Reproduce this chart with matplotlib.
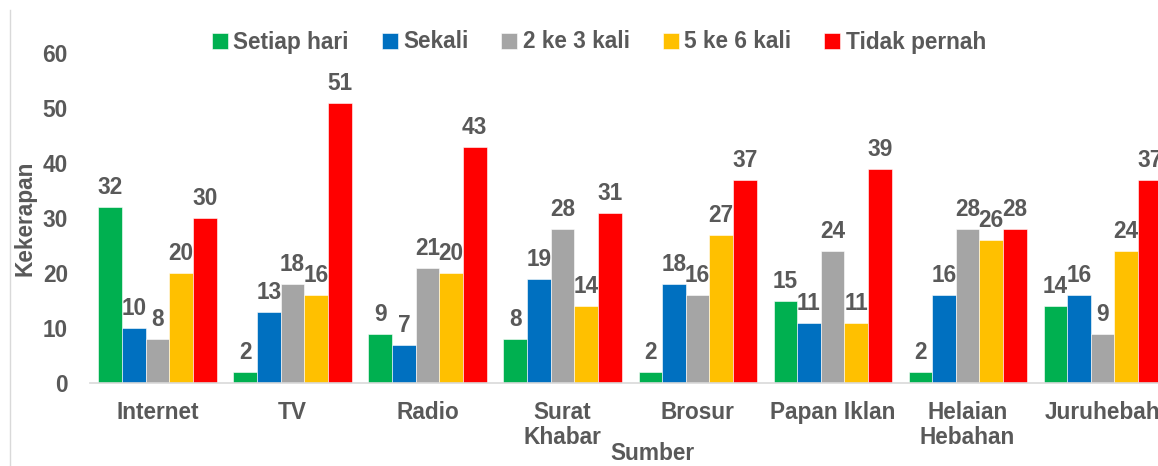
import numpy as np
import matplotlib.pyplot as plt
from matplotlib.lines import Line2D

# Data
sumber = ["Internet", "TV", "Radio", "Surat\nKhabar", "Brosur", "Papan Iklan", "Helaian\nHebahan", "Juruhebah"]
siri = ["Setiap hari", "Sekali", "2 ke 3 kali", "5 ke 6 kali", "Tidak pernah"]
setiap_hari = [32, 2, 9, 8, 2, 15, 2, 14]
sekali = [10, 13, 7, 19, 18, 11, 16, 16]
dua_tiga = [8, 18, 21, 28, 16, 24, 28, 9]
lima_enam = [20, 16, 20, 14, 27, 11, 26, 24]
tidak_pernah = [30, 51, 43, 31, 37, 39, 28, 37]
nilai = [setiap_hari, sekali, dua_tiga, lima_enam, tidak_pernah]
warna = ["#00B050", "#0070C0", "#A5A5A5", "#FFC000", "#FF0000"]

plt.rcParams['font.family'] = ['Liberation Sans', 'DejaVu Sans']
plt.rcParams['font.weight'] = 'bold'
teks = "#595959"
fs = 16.3

fig = plt.figure(figsize=(11.58, 4.66), dpi=100)
ax = fig.add_axes([90 / 1158, 83 / 466, 1 - 90 / 1158, 330 / 466])

x = np.arange(len(sumber))
lebar = 0.175
for i, (nama, v, c) in enumerate(zip(siri, nilai, warna)):
    pos = x + (i - 2) * lebar
    ax.bar(pos, v, lebar, color=c, label=nama, edgecolor='white', linewidth=0.4, zorder=2)
    for p, val in zip(pos, v):
        ax.annotate(str(val), (p, val), xytext=(0, 5.5), textcoords='offset points',
                    ha='center', va='bottom', fontsize=fs, fontweight='bold', color=teks,
                    annotation_clip=False)

ax.set_xlim(-0.5, 7.41)
ax.set_ylim(0, 60)
ax.set_yticks(range(0, 61, 10))
ax.set_xticks(x)
ax.set_xticklabels(sumber, linespacing=1.1)
ax.tick_params(axis='both', length=0, labelsize=fs, labelcolor=teks)
ax.tick_params(axis='y', pad=16)
ax.tick_params(axis='x', pad=13)
for s in ['top', 'right', 'left']:
    ax.spines[s].set_visible(False)
ax.spines['bottom'].set_color('#D9D9D9')
ax.spines['bottom'].set_linewidth(1.2)

fig.text(25 / 1158, 1 - 218 / 466, "Kekerapan", rotation=90, ha='center', va='center',
         fontsize=fs, fontweight='bold', color=teks)
fig.text(652 / 1158, 1 - 454 / 466, "Sumber", ha='center', va='center',
         fontsize=fs, fontweight='bold', color=teks)

leg = fig.legend(loc='center', bbox_to_anchor=(599 / 1158, 1 - 42 / 466), ncol=5, frameon=False,
                 fontsize=fs, handlelength=0.7, handleheight=0.7, handletextpad=0.25,
                 columnspacing=1.45)
for t in leg.get_texts():
    t.set_color(teks)

# garis tepi kiri
fig.add_artist(Line2D([10 / 1158, 10 / 1158], [0, 1 - 10 / 466], color='#D9D9D9', linewidth=1))

fig.savefig("out.png", dpi=100)
